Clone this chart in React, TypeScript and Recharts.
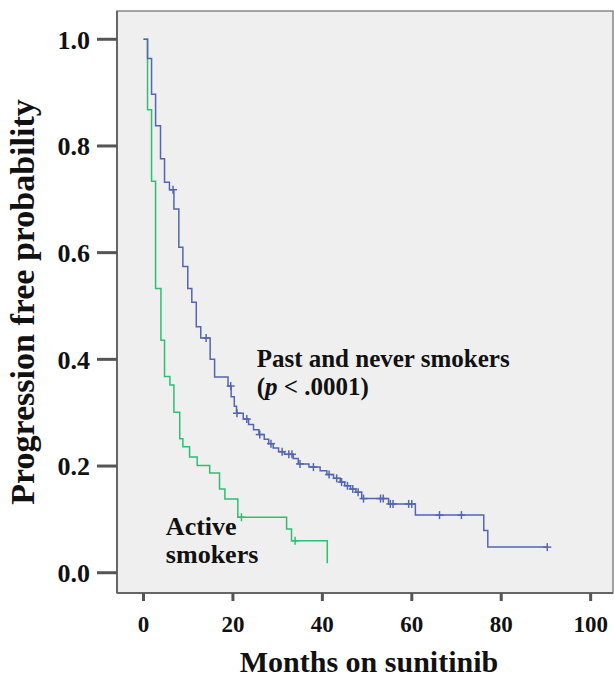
import { ComposedChart, Line, XAxis, YAxis, CartesianGrid, ReferenceArea, ReferenceDot } from "recharts"

const serif = "'Liberation Serif', 'Times New Roman', serif"

const xTicks = [0, 20, 40, 60, 80, 100]
const yTicks = [0, 0.2, 0.4, 0.6, 0.8, 1.0]

// Past and never smokers: event times (months) and survival after each drop
const pastTimes = [0, 0.9, 1.8, 2.7, 3.8, 4.7, 5.8, 6.8, 7.9, 8.8, 9.9, 10.8, 11.8, 12.8, 14.9, 15.9, 18.9, 19.6, 20.3, 20.8, 22.3, 23.5, 24.6, 25.8, 27.0, 28.0, 29.0, 30.2, 31.5, 33.5, 34.6, 37.0, 39.5, 41.0, 42.5, 44.0, 45.0, 46.3, 47.5, 48.8, 54.8, 60.8, 76.1, 77.0]
const pastSurv = [1.0, 0.964, 0.897, 0.838, 0.776, 0.732, 0.718, 0.682, 0.61, 0.574, 0.533, 0.507, 0.461, 0.44, 0.4, 0.367, 0.35, 0.33, 0.312, 0.299, 0.288, 0.278, 0.268, 0.259, 0.25, 0.242, 0.234, 0.227, 0.222, 0.214, 0.204, 0.198, 0.191, 0.184, 0.177, 0.17, 0.163, 0.157, 0.151, 0.139, 0.129, 0.108, 0.079, 0.048]
const pastCensored = [6.6, 14.0, 19.5, 20.9, 23.1, 26.0, 28.5, 31.0, 32.5, 33.2, 35.0, 38.0, 41.5, 43.2, 44.3, 45.6, 46.8, 48.0, 49.2, 53.0, 53.6, 55.2, 55.8, 59.3, 60.0, 66.2, 71.1, 90.3]

// Active smokers
const activeTimes = [0, 0.9, 1.8, 2.7, 3.9, 4.7, 5.9, 6.8, 8.1, 8.8, 10.3, 12.0, 14.8, 17.0, 18.2, 21.1, 32.0, 33.1, 41.1]
const activeSurv = [1.0, 0.868, 0.734, 0.533, 0.436, 0.368, 0.352, 0.301, 0.251, 0.236, 0.217, 0.201, 0.187, 0.157, 0.138, 0.104, 0.082, 0.06, 0.018]
const activeCensored = [21.9, 33.9]

const pastColor = "#5366b2"
const activeColor = "#2fbf72"

function buildCurve(times: number[], surv: number[], censored: number[]) {
  const rows = times.map((t, i) => ({ t, s: surv[i], c: false }))
  censored.forEach((t) => {
    let s = surv[0]
    times.forEach((tt, i) => {
      if (tt <= t) s = surv[i]
    })
    rows.push({ t, s, c: true })
  })
  return rows.sort((a, b) => a.t - b.t)
}

const pastData = buildCurve(pastTimes, pastSurv, pastCensored)
const activeData = buildCurve(activeTimes, activeSurv, activeCensored)

function censorMark(color: string) {
  return (props: any) => {
    const { cx, cy, payload, index } = props
    if (!payload || !payload.c) return <g key={`n-${index}`} />
    return (
      <g key={`c-${index}`} stroke={color} strokeWidth={1.5}>
        <line x1={cx - 4} y1={cy} x2={cx + 4} y2={cy} />
        <line x1={cx} y1={cy - 4} x2={cx} y2={cy + 4} />
      </g>
    )
  }
}

const textStyle = { fontFamily: serif, fontWeight: "bold" as const, fill: "#111" }

export default function App() {
  return (
    <div style={{ position: "absolute", left: 0, top: 0, background: "#fff" }}>
      <ComposedChart width={614} height={681} margin={{ top: 11, right: 1, bottom: 0, left: 0 }}>
        <CartesianGrid horizontal={false} vertical={false} fill="#efefef" />
        <XAxis
          dataKey="t"
          type="number"
          domain={[-5.93, 105]}
          ticks={xTicks}
          allowDataOverflow
          height={88}
          tickSize={8}
          tickMargin={15}
          axisLine={{ stroke: "#666", strokeWidth: 2 }}
          tickLine={{ stroke: "#555", strokeWidth: 3 }}
          tick={{ ...textStyle, fontSize: 23 }}
          label={{
            content: (p: any) => {
              const vb = p.viewBox
              return (
                <text x={vb.x + vb.width / 2 + 4} y={672} textAnchor="middle" style={{ ...textStyle, fontSize: 30 }} fill="#111">
                  Months on sunitinib
                </text>
              )
            },
          }}
        />
        <YAxis
          type="number"
          domain={[-0.038, 1.053]}
          ticks={yTicks}
          allowDataOverflow
          width={117}
          tickSize={20}
          tickMargin={7}
          tickFormatter={(v: number) => v.toFixed(1)}
          axisLine={{ stroke: "#666", strokeWidth: 2 }}
          tickLine={{ stroke: "#555", strokeWidth: 3 }}
          tick={{ ...textStyle, fontSize: 26 }}
          label={{
            content: (p: any) => {
              const vb = p.viewBox
              const cy = vb.y + vb.height / 2
              return (
                <text transform={`translate(34, ${cy}) rotate(-90)`} textAnchor="middle" style={{ ...textStyle, fontSize: 34 }} fill="#111">
                  Progression free probability
                </text>
              )
            },
          }}
        />
        <ReferenceArea x1={-5.93} x2={105} y1={-0.038} y2={1.053} fill="none" fillOpacity={0} stroke="#888" strokeWidth={1.5} />
        <Line
          data={activeData}
          dataKey="s"
          type="stepAfter"
          stroke={activeColor}
          strokeWidth={1.5}
          dot={censorMark(activeColor)}
          activeDot={false}
          isAnimationActive={false}
        />
        <Line
          data={pastData}
          dataKey="s"
          type="stepAfter"
          stroke={pastColor}
          strokeWidth={1.5}
          dot={censorMark(pastColor)}
          activeDot={false}
          isAnimationActive={false}
        />
        <ReferenceDot
          x={25.3}
          y={0.386}
          r={0}
          fill="none"
          stroke="none"
          label={{
            content: (p: any) => {
              const vb = p.viewBox
              return (
                <text x={vb.x} y={vb.y} style={{ ...textStyle, fontSize: 25 }} fill="#111">
                  <tspan x={vb.x} dy={0}>Past and never smokers</tspan>
                  <tspan x={vb.x} dy={28}>(</tspan>
                  <tspan fontStyle="italic">p</tspan>
                  <tspan> &lt; .0001)</tspan>
                </text>
              )
            },
          }}
        />
        <ReferenceDot
          x={5.0}
          y={0.071}
          r={0}
          fill="none"
          stroke="none"
          label={{
            content: (p: any) => {
              const vb = p.viewBox
              return (
                <text x={vb.x} y={vb.y} style={{ ...textStyle, fontSize: 26 }} fill="#111">
                  <tspan x={vb.x} dy={0}>Active</tspan>
                  <tspan x={vb.x} dy={28}>smokers</tspan>
                </text>
              )
            },
          }}
        />
      </ComposedChart>
    </div>
  )
}
